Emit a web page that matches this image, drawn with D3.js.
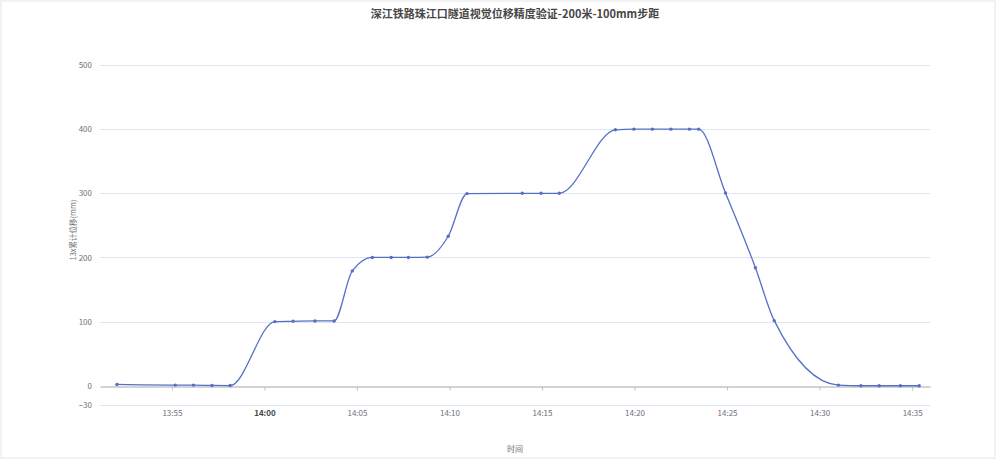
<!DOCTYPE html>
<html>
<head>
    <meta charset="utf-8">
    <title>深江铁路珠江口隧道视觉位移精度验证</title>
    <script src="https://d3js.org/d3.v7.min.js"></script>
    <style>
        html, body { margin: 0; padding: 0; background: #f2f2f2; }
        #chart { position: absolute; left: 2px; top: 2px; width: 992px; height: 455px; background: #fff; }
        text { font-family: "Noto Sans CJK SC", "Microsoft YaHei", sans-serif; }
    </style>
</head>
<body>
    <div id="chart"></div>

    <script type="text/javascript">
        // data
        var times = ["13:52:02", "13:55:11", "13:56:10", "13:57:10", "13:58:09",
                     "14:00:34", "14:01:33", "14:02:44", "14:03:46", "14:04:45",
                     "14:05:50", "14:06:51", "14:07:47", "14:08:48", "14:09:56",
                     "14:10:57", "14:13:56", "14:14:57", "14:15:56", "14:18:58",
                     "14:19:58", "14:20:58", "14:21:58", "14:22:58", "14:23:28",
                     "14:24:55", "14:26:32", "14:27:33", "14:31:01", "14:32:14",
                     "14:33:13", "14:34:22", "14:35:23"];
        var values = [2, 1, 1, 0.5, 0.3,
                      100, 100.5, 101, 101, 179,
                      200, 200, 200, 200.5, 233,
                      299.5, 300, 300, 300, 399,
                      400, 400, 400, 400, 400,
                      300.5, 184, 101.5, 1, 0,
                      0, 0, 0];
        var yTicks = [-30, 0, 100, 200, 300, 400, 500];
        var xTicks = ["13:55", "14:00", "14:05", "14:10", "14:15", "14:20", "14:25", "14:30", "14:35"];
        var xRange = ["13:51:07", "14:35:58"];

        var titleText = "深江铁路珠江口隧道视觉位移精度验证-200米-100mm步距";
        var yName = "13x累计位移(mm)";
        var xName = "时间";

        var parseT = d3.timeParse("%H:%M:%S");
        var parseTick = d3.timeParse("%H:%M");
        var data = times.map(function(t, i) { return { t: parseT(t), v: values[i] }; });

        // svg is offset by the 2px frame, so plot coords are page coords - 2
        var W = 992, H = 455;
        var plotL = 98, plotR = 928, plotT = 63, plotB = 403;

        var svg = d3.select("#chart").append("svg")
            .attr("width", W)
            .attr("height", H);

        var x = d3.scaleTime()
            .domain(xRange.map(parseT))
            .range([plotL, plotR]);
        var y = d3.scaleLinear()
            .domain([-30, 500])
            .range([plotB, plotT]);

        // title
        svg.append("text")
            .attr("x", 513)
            .attr("y", 16)
            .attr("text-anchor", "middle")
            .style("font-size", "11px")
            .style("font-weight", "bold")
            .style("fill", "#464646")
            .text(titleText);

        // horizontal grid lines
        svg.append("g").selectAll("line")
            .data(yTicks.filter(function(d) { return d != 0; }))
            .enter().append("line")
            .attr("x1", plotL).attr("x2", plotR)
            .attr("y1", function(d) { return Math.round(y(d)) + 0.5; })
            .attr("y2", function(d) { return Math.round(y(d)) + 0.5; })
            .style("stroke", "#e0e6f1")
            .style("stroke-width", 1);

        // y axis labels
        var yAxis = d3.axisLeft(y).tickValues(yTicks).tickSize(0).tickPadding(8);
        var gy = svg.append("g")
            .attr("transform", "translate(" + plotL + ",0)")
            .call(yAxis);
        gy.select(".domain").remove();
        gy.selectAll("text")
            .style("font-size", "8px")
            .style("fill", "#6e7079")
            .style("font-family", "'Noto Sans CJK SC', sans-serif");

        // x axis sits on zero
        var xAxis = d3.axisBottom(x)
            .tickValues(xTicks.map(parseTick))
            .tickFormat(d3.timeFormat("%H:%M"))
            .tickSizeInner(4)
            .tickSizeOuter(0)
            .tickPadding(0);
        var gx = svg.append("g")
            .attr("transform", "translate(0," + (Math.round(y(0)) + 0.5) + ")")
            .call(xAxis);
        gx.select(".domain").style("stroke", "#c4c4c4").style("stroke-width", 1.3);
        gx.selectAll(".tick line").style("stroke", "#c4c4c4");
        gx.selectAll("text")
            .attr("y", 24)
            .style("font-size", "8px")
            .style("font-family", "'Noto Sans CJK SC', sans-serif")
            .style("font-weight", function(d) { return d.getMinutes() == 0 ? "bold" : "normal"; })
            .style("fill", function(d) { return d.getMinutes() == 0 ? "#464646" : "#6e7079"; });

        // axis names
        svg.append("text")
            .attr("transform", "translate(74,228) rotate(-90)")
            .attr("text-anchor", "middle")
            .style("font-size", "7.5px")
            .style("fill", "#6e7079")
            .text(yName);

        svg.append("text")
            .attr("x", 513)
            .attr("y", 450)
            .attr("text-anchor", "middle")
            .style("font-size", "8px")
            .style("fill", "#6e7079")
            .text(xName);

        // the series
        var line = d3.line()
            .x(function(d) { return x(d.t); })
            .y(function(d) { return y(d.v); })
            .curve(d3.curveMonotoneX);

        svg.append("path")
            .datum(data)
            .attr("d", line)
            .style("fill", "none")
            .style("stroke", "#5470c6")
            .style("stroke-width", 1.3);

        svg.append("g").selectAll("circle")
            .data(data)
            .enter().append("circle")
            .attr("cx", function(d) { return x(d.t); })
            .attr("cy", function(d) { return y(d.v); })
            .attr("r", 1.7)
            .style("fill", "#5470c6");
    </script>
</body>
</html>
